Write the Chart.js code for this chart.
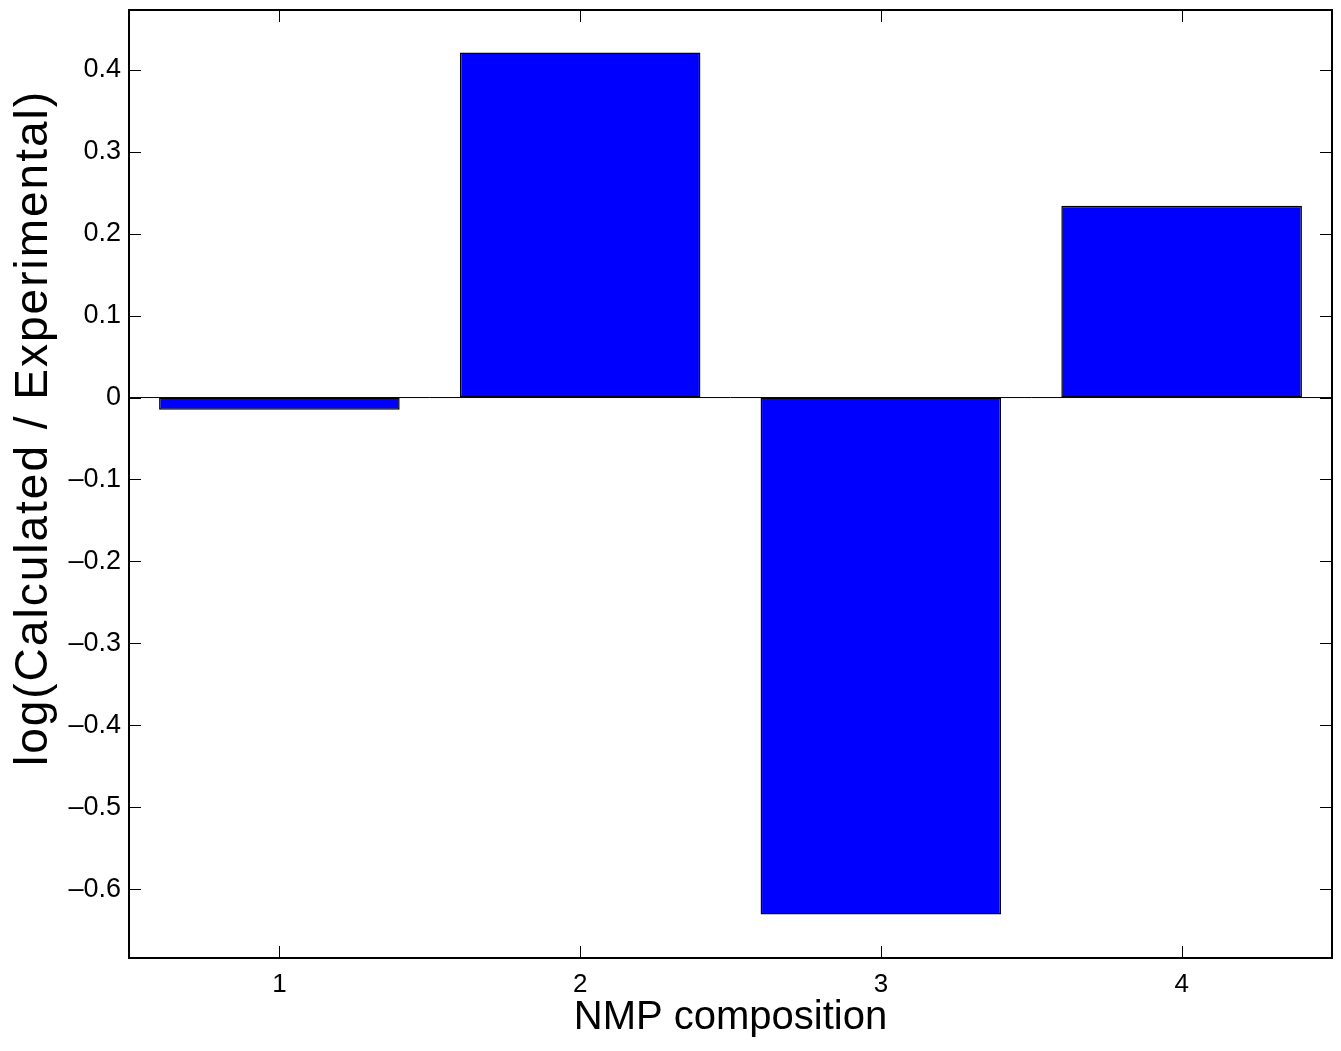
<!DOCTYPE html>
<html>
<head>
<meta charset="utf-8">
<script src="https://cdn.jsdelivr.net/npm/chart.js@4"></script>
<style>
  html, body { margin: 0; padding: 0; background: #fff; }
  #wrap { width: 1341px; height: 1051px; }
</style>
</head>
<body>
<div id="wrap"><canvas id="myChart"></canvas></div>
<script>
// data
const categories = ['1', '2', '3', '4'];
const values = [-0.015, 0.421, -0.631, 0.234];
const yMin = -0.684;
const yMax = 0.473;
const yTitle = 'log(Calculated / Experimental)';

// matlab style box + inward ticks + zero baseline + y label
const boxPlugin = {
    id: 'box',
    beforeDatasetsDraw(chart) {
        const ctx = chart.ctx;
        const a = chart.chartArea;
        const y0 = chart.scales.y.getPixelForValue(0);
        ctx.save();
        ctx.strokeStyle = '#000';
        ctx.lineWidth = 1;
        ctx.beginPath();
        ctx.moveTo(a.left, y0);
        ctx.lineTo(a.right, y0);
        ctx.stroke();
        ctx.restore();
    },
    afterDraw(chart) {
        const ctx = chart.ctx;
        const a = chart.chartArea;
        const xs = chart.scales.x;
        const ys = chart.scales.y;
        ctx.save();
        ctx.strokeStyle = '#000';
        ctx.lineWidth = 2;
        ctx.strokeRect(a.left, a.top, a.right - a.left, a.bottom - a.top);
        ctx.lineWidth = 1;
        ctx.beginPath();
        xs.ticks.forEach(function(t, i) {
            const px = Math.round(xs.getPixelForTick(i)) + 0.5;
            ctx.moveTo(px, a.bottom);
            ctx.lineTo(px, a.bottom - 12);
            ctx.moveTo(px, a.top);
            ctx.lineTo(px, a.top + 12);
        });
        ys.ticks.forEach(function(t) {
            const py = Math.round(ys.getPixelForValue(t.value)) + 0.5;
            ctx.moveTo(a.left, py);
            ctx.lineTo(a.left + 12, py);
            ctx.moveTo(a.right, py);
            ctx.lineTo(a.right - 12, py);
        });
        ctx.stroke();

        // y axis label, placed like the original (a bit above centre)
        ctx.fillStyle = '#000';
        ctx.font = '46px "Liberation Sans"';
        ctx.letterSpacing = '2px';
        ctx.textAlign = 'center';
        ctx.textBaseline = 'alphabetic';
        ctx.translate(47, 428);
        ctx.rotate(-Math.PI / 2);
        ctx.fillText(yTitle, 0, 0);
        ctx.restore();
    }
};

function mychart() {
    const ctx = document.getElementById('myChart');
    new Chart(ctx, {
        type: 'bar',
        data: {
            labels: categories,
            datasets: [{
                data: values,
                backgroundColor: '#0000ff',
                borderColor: '#000',
                borderWidth: 1.5,
                borderSkipped: false,
                categoryPercentage: 0.8,
                barPercentage: 1
            }]
        },
        options: {
            responsive: true,
            maintainAspectRatio: false,
            animation: false,
            layout: { padding: { top: 10, right: 9, left: 0, bottom: 0 } },
            plugins: {
                legend: { display: false },
                tooltip: { enabled: false }
            },
            scales: {
                x: {
                    offset: true,
                    grid: { display: false },
                    border: { display: false },
                    ticks: {
                        color: '#000',
                        padding: 3,
                        font: { family: 'Liberation Sans', size: 26 }
                    },
                    title: {
                        display: true,
                        text: 'NMP composition',
                        color: '#000',
                        padding: { top: 0, bottom: 9 },
                        font: { family: 'Liberation Sans', size: 40 }
                    },
                    afterFit: function(s) { s.height = 93; }
                },
                y: {
                    min: yMin,
                    max: yMax,
                    grid: { display: false },
                    border: { display: false },
                    ticks: {
                        stepSize: 0.1,
                        includeBounds: false,
                        color: '#000',
                        padding: 0,
                        font: { family: 'Liberation Sans', size: 27 },
                        callback: function(v) {
                            const n = Number(v.toFixed(1));
                            return n === 0 ? '0' : String(n).replace('-', '\u2013');
                        }
                    },
                    afterFit: function(s) {
                        s.width = 129;
                        s.paddingTop = 0;
                        s.paddingBottom = 0;
                    }
                }
            }
        },
        plugins: [boxPlugin]
    });
}

document.addEventListener('DOMContentLoaded', function() {
    mychart();
});
</script>
</body>
</html>
